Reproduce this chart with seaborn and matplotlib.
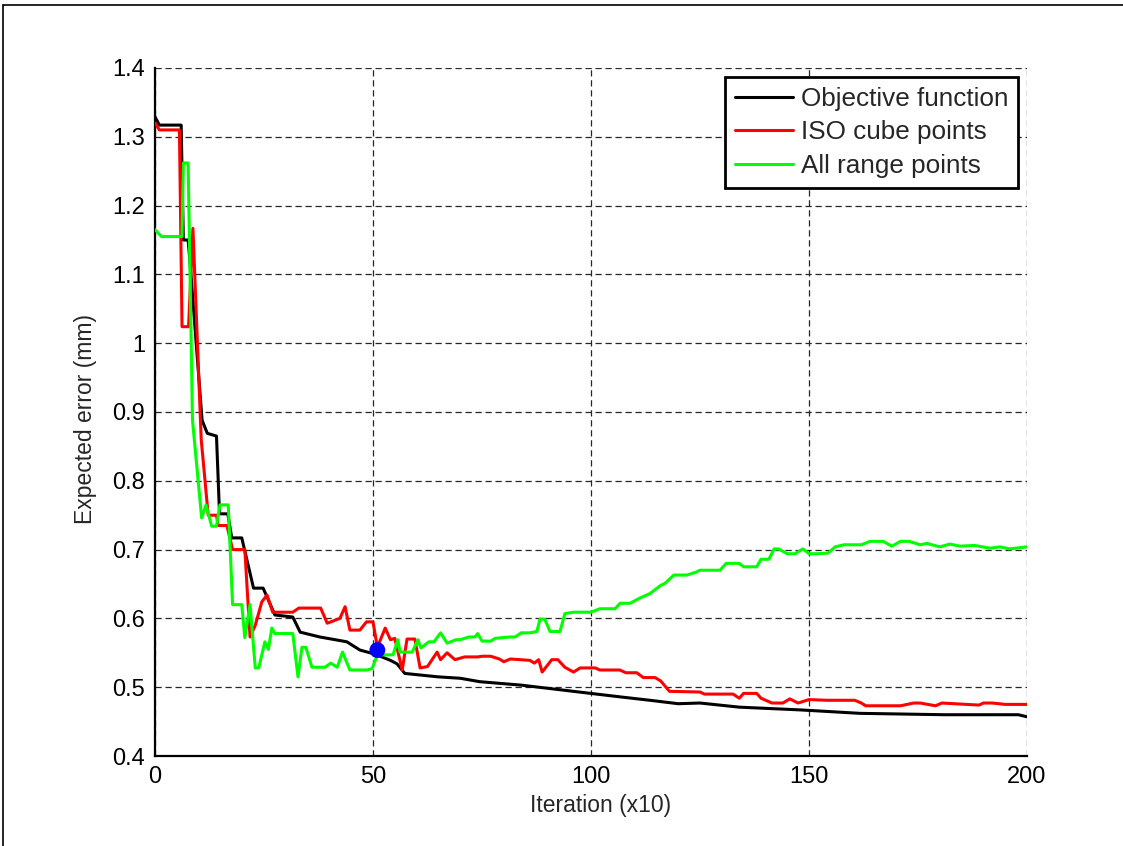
import matplotlib
matplotlib.use("Agg")
import matplotlib.pyplot as plt
from matplotlib.lines import Line2D
import seaborn as sns
import pandas as pd

# ---------------- data ----------------
series_names = ["Objective function", "ISO cube points", "All range points"]
series_colors = ["#000000", "#FF0000", "#00FF00"]

obj_x = [0, 1, 6.0, 6.5, 7.6, 8.0, 10.8, 12.0, 14.1, 14.8, 16.7, 17.6, 19.9, 22.6, 24.8, 27.5,
         31.6, 33.3, 37.8, 44.0, 47.0, 50.5, 54.0, 55.5, 57.3, 65.0, 70.0, 74.5, 84.0, 98.6,
         106.6, 113.5, 120.0, 125.0, 134.0, 148.0, 161.7, 181.0, 198.0, 200.0]
obj_y = [1.329, 1.317, 1.317, 1.150, 1.150, 1.120, 0.888, 0.869, 0.865, 0.752, 0.752, 0.717,
         0.717, 0.644, 0.644, 0.605, 0.602, 0.580, 0.573, 0.566, 0.554, 0.548, 0.539, 0.534,
         0.520, 0.515, 0.513, 0.508, 0.503, 0.492, 0.486, 0.481, 0.476, 0.477, 0.471, 0.467,
         0.462, 0.460, 0.460, 0.457]

iso_x = [0, 1, 5.6, 6.2, 7.7, 8.7, 10.6, 12.2, 14.1, 14.5, 16.5, 17.8, 20.6, 21.8, 23.0,
         24.5, 25.7, 27.0, 31.6, 33.0, 38.0, 39.5, 42.4, 43.6, 44.7, 47.0, 48.5, 50.0, 51.0,
         52.8, 54.0, 55.0, 56.7, 57.8, 59.6, 60.8, 62.5, 64.7, 65.5, 67.0, 68.8, 71.0, 74.0,
         75.0, 77.0, 79.0, 80.0, 81.5, 86.0, 87.0, 88.0, 88.8, 91.0, 92.4, 94.0, 96.0, 97.5,
         101.0, 102.0, 106.6, 108.0, 110.5, 112.0, 114.7, 116.0, 118.0, 125.0, 126.0, 132.6,
         134.0, 135.0, 138.0, 139.0, 141.5, 144.0, 145.6, 147.5, 150.0, 154.0, 160.5, 162.0,
         163.0, 171.0, 174.0, 175.5, 179.0, 180.5, 189.0, 190.0, 192.0, 195.0, 200.0]
iso_y = [1.320, 1.310, 1.310, 1.024, 1.024, 1.167, 0.860, 0.750, 0.750, 0.735, 0.735, 0.700,
         0.700, 0.573, 0.590, 0.624, 0.634, 0.609, 0.609, 0.615, 0.615, 0.593, 0.600, 0.617,
         0.583, 0.583, 0.595, 0.595, 0.558, 0.586, 0.569, 0.571, 0.525, 0.570, 0.570, 0.528,
         0.530, 0.551, 0.540, 0.550, 0.540, 0.544, 0.544, 0.545, 0.545, 0.541, 0.537, 0.541,
         0.539, 0.535, 0.540, 0.522, 0.540, 0.540, 0.529, 0.522, 0.528, 0.528, 0.525, 0.525,
         0.521, 0.521, 0.514, 0.514, 0.509, 0.494, 0.493, 0.490, 0.490, 0.484, 0.491, 0.491,
         0.484, 0.477, 0.477, 0.483, 0.477, 0.482, 0.481, 0.481, 0.477, 0.473, 0.473, 0.477,
         0.477, 0.473, 0.477, 0.474, 0.477, 0.477, 0.475, 0.475]

all_x = [0, 1.5, 6.2, 6.5, 7.6, 8.6, 10.7, 11.7, 13.0, 14.1, 14.9, 16.8, 17.8, 19.9, 20.6,
         21.8, 23.0, 23.8, 25.2, 26.0, 26.8, 27.5, 31.6, 32.8, 33.7, 34.6, 36.0, 39.0, 40.3,
         41.8, 43.0, 44.7, 48.6, 49.8, 51.0, 54.6, 55.7, 56.2, 59.0, 60.3, 61.0, 62.8, 64.0,
         65.5, 67.0, 69.0, 70.0, 72.0, 73.4, 74.0, 75.0, 77.0, 78.0, 81.4, 82.6, 84.0, 86.0,
         87.6, 88.3, 89.4, 90.6, 92.9, 94.0, 96.0, 100.0, 102.0, 105.5, 106.7, 109.0, 111.0,
         113.5, 116.0, 117.0, 119.0, 122.0, 124.0, 125.0, 129.6, 131.0, 134.0, 135.0, 138.0,
         139.0, 140.8, 142.0, 143.0, 145.0, 146.8, 148.6, 150.0, 152.0, 154.4, 156.0, 158.0,
         160.5, 162.0, 164.0, 167.0, 169.0, 171.0, 173.0, 175.5, 177.0, 180.0, 182.3, 184.6,
         188.0, 191.5, 193.8, 196.0, 200.0]
all_y = [1.165, 1.155, 1.155, 1.262, 1.262, 0.888, 0.746, 0.765, 0.734, 0.734, 0.765, 0.765,
         0.620, 0.620, 0.572, 0.620, 0.528, 0.528, 0.566, 0.555, 0.586, 0.578, 0.578, 0.515,
         0.558, 0.558, 0.529, 0.529, 0.535, 0.529, 0.551, 0.525, 0.525, 0.527, 0.547, 0.547,
         0.569, 0.551, 0.551, 0.569, 0.557, 0.566, 0.566, 0.579, 0.564, 0.569, 0.569, 0.573,
         0.573, 0.578, 0.567, 0.567, 0.571, 0.573, 0.573, 0.579, 0.579, 0.581, 0.599, 0.599,
         0.581, 0.581, 0.607, 0.609, 0.609, 0.614, 0.614, 0.622, 0.622, 0.629, 0.636, 0.648,
         0.651, 0.663, 0.663, 0.667, 0.670, 0.670, 0.680, 0.680, 0.675, 0.675, 0.686, 0.686,
         0.701, 0.701, 0.694, 0.694, 0.701, 0.694, 0.694, 0.695, 0.704, 0.707, 0.707, 0.707,
         0.712, 0.712, 0.705, 0.712, 0.712, 0.707, 0.709, 0.704, 0.708, 0.705, 0.706, 0.702,
         0.704, 0.701, 0.704]

best_x = [51.0]
best_y = [0.554]

x_ticks = [0, 50, 100, 150, 200]
y_ticks = [0.4, 0.5, 0.6, 0.7, 0.8, 0.9, 1.0, 1.1, 1.2, 1.3, 1.4]
y_tick_labels = ["0.4", "0.5", "0.6", "0.7", "0.8", "0.9", "1", "1.1", "1.2", "1.3", "1.4"]
x_label = "Iteration (x10)"
y_label = "Expected error (mm)"

# ---------------- build frame ----------------
frames = []
for name, xs, ys in zip(series_names, [obj_x, iso_x, all_x], [obj_y, iso_y, all_y]):
    frames.append(pd.DataFrame({"x": xs, "y": ys, "series": name}))
df = pd.concat(frames, ignore_index=True)
df_best = pd.DataFrame({"x": best_x, "y": best_y})

# ---------------- style ----------------
sns.set_style("white")
plt.rcParams["font.family"] = ["Liberation Sans", "DejaVu Sans"]
plt.rcParams["axes.unicode_minus"] = False

fig = plt.figure(figsize=(11.23, 8.46), dpi=100)
ax = fig.add_axes([155 / 1123, 1 - 756 / 846, (1027 - 155) / 1123, (756 - 68) / 846])

sns.lineplot(data=df, x="x", y="y", hue="series", hue_order=series_names,
             palette=dict(zip(series_names, series_colors)), sort=False,
             estimator=None, linewidth=2.2, ax=ax, legend=False, zorder=3)
sns.scatterplot(data=df_best, x="x", y="y", color="#0000FF", s=130, edgecolor="none",
                ax=ax, zorder=5, legend=False)

ax.set_xlim(0, 200)
ax.set_ylim(0.4, 1.4)
ax.set_xticks(x_ticks)
ax.set_xticklabels([str(t) for t in x_ticks])
ax.set_yticks(y_ticks)
ax.set_yticklabels(y_tick_labels)

ax.grid(True, color="0.15", linestyle=(0, (5, 3)), linewidth=0.9, zorder=0)
ax.set_axisbelow(True)

for side in ["top", "right"]:
    ax.spines[side].set_visible(False)
for side in ["left", "bottom"]:
    ax.spines[side].set_color("black")
    ax.spines[side].set_linewidth(1.6)

ax.tick_params(axis="both", direction="in", length=6, width=1.6, labelsize=17,
               colors="black", pad=7)
ax.set_xlabel(x_label, fontsize=16.5)
ax.set_ylabel(y_label, fontsize=16.5)
ax.xaxis.set_label_coords((601 - 155) / 872, -0.055)
ax.yaxis.set_label_coords(-0.066, 0.49)

handles = [Line2D([0], [0], color=c, lw=2.2) for c in series_colors]
leg = ax.legend(handles, series_names, loc="upper right",
                bbox_to_anchor=(0.9897, 0.987), borderaxespad=0, fontsize=18.8,
                frameon=True, fancybox=False, handlelength=2.2, handletextpad=0.3,
                labelspacing=0.36, borderpad=0.38)
leg.get_frame().set_edgecolor("black")
leg.get_frame().set_linewidth(2.0)
leg.get_frame().set_alpha(1)

# figure frame lines (top and left)
fig.add_artist(Line2D([3 / 1123, 1], [1 - 5 / 846, 1 - 5 / 846], color="black", lw=1.2,
                      transform=fig.transFigure))
fig.add_artist(Line2D([3 / 1123, 3 / 1123], [0, 1 - 5 / 846], color="black", lw=1.2,
                      transform=fig.transFigure))

fig.savefig("out.png", dpi=100)
